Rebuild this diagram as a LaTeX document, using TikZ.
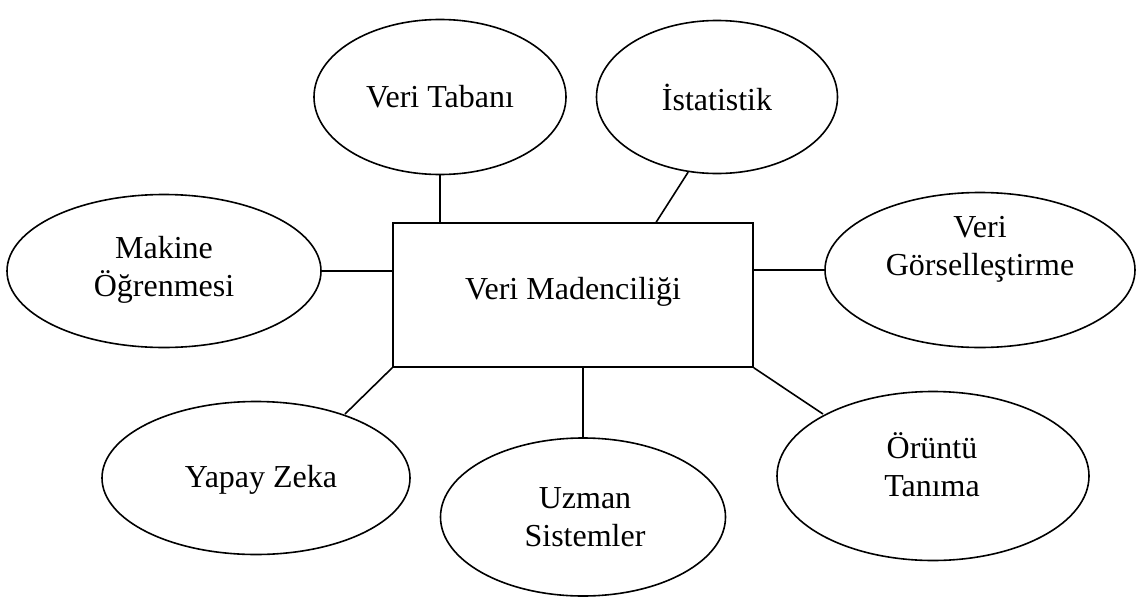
\documentclass[tikz,border=0pt]{standalone}
\usepackage{fontspec}
\setmainfont{Liberation Serif}
\usetikzlibrary{shapes.geometric,calc}
\begin{document}
\begin{tikzpicture}[x=1pt,y=-1pt,
  every node/.style={font=\fontsize{32}{38}\selectfont},
  topic/.style={draw,ellipse,line width=1.6pt,inner sep=0pt},
  core/.style={draw,rectangle,line width=1.6pt,inner sep=0pt,minimum width=360pt,minimum height=144pt},
  caption/.style={align=center,inner sep=0pt},
  link/.style={line width=1.6pt}]
\useasboundingbox (0,0) rectangle (1141,608);

% central box
\node[core] (vm) at (573,295) {};
\node[caption] (vm-t) at (573,292) {Veri Madencili\u{g}i};

% surrounding topics
\node[topic,minimum width=252pt,minimum height=155pt] (vt) at (440,97) {};
\node[caption] (vt-t) at (440,97) {Veri Tabanı};

\node[topic,minimum width=241pt,minimum height=153pt] (ist) at (717,97) {};
\node[caption] (ist-t) at (717,97) {İstatistik};

\node[topic,minimum width=314pt,minimum height=153pt] (mk) at (164,271) {};
\node[caption] (mk-t) at (164,270) {Makine\\Öğrenmesi};

\node[topic,minimum width=310pt,minimum height=155pt] (vg) at (980,270) {};
\node[caption] (vg-t) at (980,249) {Veri\\Görselleştirme};

\node[topic,minimum width=308pt,minimum height=153pt] (yz) at (256,478) {};
\node[caption] (yz-t) at (261,480) {Yapay Zeka};

\node[topic,minimum width=285pt,minimum height=158pt] (us) at (583,517) {};
\node[caption] (us-t) at (585,517) {Uzman\\Sistemler};

\node[topic,minimum width=312pt,minimum height=169pt] (ot) at (933,476) {};
\node[caption] (ot-t) at (932,465) {Örüntü\\Tanıma};

% free ends of the connectors
\coordinate (ist-foot) at ($(vm.north west)!0.73!(vm.north east)$);
\coordinate (yz-tip) at (345,414);
\coordinate (ot-tip) at (823,414);

% connectors
\draw[link] (vt.south) -- (vt.south |- vm.north);
\draw[link] (ist-foot) -- (ist.249);
\draw[link] (mk.east) -- (vm.west |- mk.east);
\draw[link] (vm.east |- vg.west) -- (vg.west);
\draw[link] (vm.south west) -- (yz-tip);
\draw[link] (vm.south -| us.north) -- (us.north);
\draw[link] (vm.south east) -- (ot-tip);
\end{tikzpicture}
\end{document}
